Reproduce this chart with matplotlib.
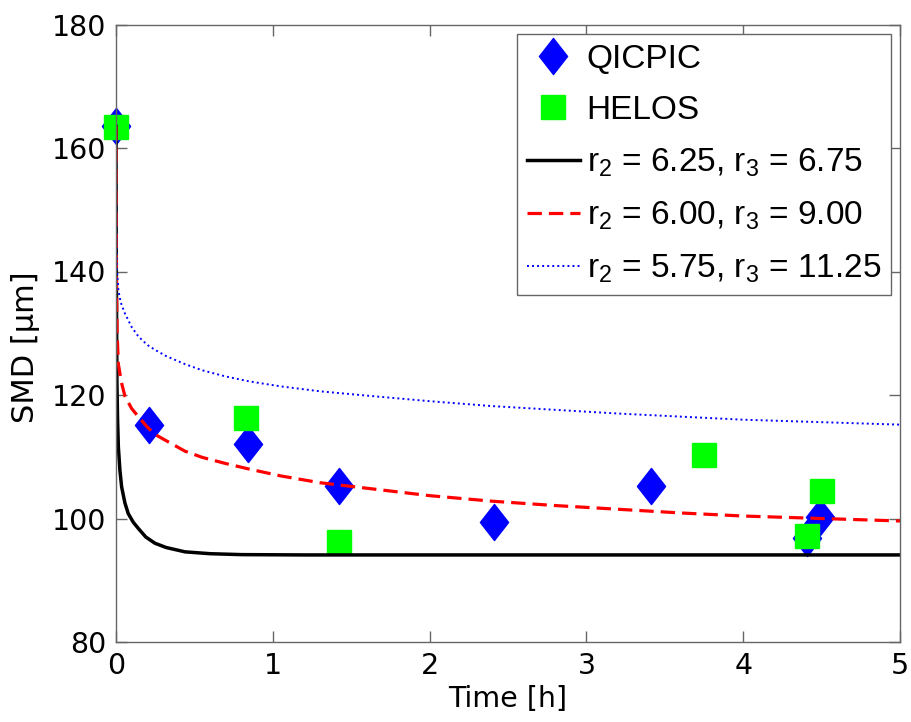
import matplotlib
matplotlib.use("Agg")
import matplotlib.pyplot as plt
import numpy as np
from matplotlib.path import Path

plt.rcParams['font.family'] = ['DejaVu Sans']
plt.rcParams['mathtext.fontset'] = 'custom'
plt.rcParams['mathtext.rm'] = 'Liberation Sans'
plt.rcParams['mathtext.it'] = 'Liberation Sans'

# measured points
qicpic_t = [0.0, 0.21, 0.84, 1.42, 2.41, 3.41, 4.41, 4.49]
qicpic_smd = [163.6, 115.2, 112.0, 105.2, 99.4, 105.2, 96.8, 100.3]
helos_t = [0.0, 0.83, 1.42, 3.75, 4.41, 4.50]
helos_smd = [163.4, 116.3, 96.2, 110.3, 97.2, 104.4]

# model curves
black_t = [0, 0.002, 0.006, 0.01, 0.015, 0.025, 0.036, 0.057, 0.078, 0.11, 0.142,
           0.19, 0.248, 0.32, 0.44, 0.6, 0.8, 1.2, 5.0]
black_smd = [163.5, 140, 122, 116, 111.6, 107.8, 105.1, 102.5, 100.8, 99.4, 98.4,
             97.0, 96.0, 95.3, 94.6, 94.3, 94.15, 94.1, 94.1]
red_t = [0, 0.001, 0.003, 0.007, 0.015, 0.035, 0.057, 0.1, 0.142, 0.2, 0.25, 0.32,
         0.44, 0.55, 0.7, 0.85, 1.05, 1.3, 1.6, 2.0, 2.4, 2.8, 3.2, 3.6, 4.0, 4.5, 5.0]
red_smd = [163.5, 150, 138, 130, 125, 122, 119.8, 117.8, 116.5, 114.8, 113.6, 112.6,
           110.9, 109.9, 108.9, 108.0, 106.9, 105.8, 104.9, 103.7, 102.8, 102.1, 101.5,
           100.9, 100.4, 100.0, 99.6]
blue_t = [0, 0.001, 0.003, 0.007, 0.015, 0.03, 0.057, 0.1, 0.142, 0.2, 0.25, 0.32,
          0.44, 0.55, 0.7, 0.85, 1.05, 1.3, 1.6, 2.0, 2.4, 2.8, 3.2, 3.6, 4.0, 4.5, 5.0]
blue_smd = [163.5, 152, 144, 140, 137, 135, 133.2, 131, 129.5, 128.1, 127.3, 126.3,
            125.0, 124.0, 123.0, 122.2, 121.4, 120.6, 119.9, 119.0, 118.2, 117.6, 117.0,
            116.5, 116.0, 115.6, 115.2]

labels = ['QICPIC', 'HELOS',
          r'r$_2$ = 6.25, r$_3$ = 6.75',
          r'r$_2$ = 6.00, r$_3$ = 9.00',
          r'r$_2$ = 5.75, r$_3$ = 11.25']

diamond = Path([(0, 1), (0.78, 0), (0, -1), (-0.78, 0), (0, 1)],
               [Path.MOVETO, Path.LINETO, Path.LINETO, Path.LINETO, Path.CLOSEPOLY])

fig = plt.figure(figsize=(9.12, 7.22), dpi=100)
ax = fig.add_axes([116 / 912, 80 / 722, 784 / 912, 617.5 / 722])

ax.plot(qicpic_t, qicpic_smd, linestyle='none', marker=diamond, ms=26,
        color=(0, 0, 1), mec=(0, 0, 1), label=labels[0], clip_on=False)
ax.plot(helos_t, helos_smd, linestyle='none', marker='s', ms=17,
        color=(0, 1, 0), mec=(0, 1, 0), label=labels[1], clip_on=False)
ax.plot(black_t, black_smd, color='k', lw=2.5, label=labels[2])
ax.plot(red_t, red_smd, color=(1, 0, 0), lw=2.3, ls=(0, (4.5, 2.2)), label=labels[3])
ax.plot(blue_t, blue_smd, color=(0, 0, 1), lw=1.4, ls=(0, (1, 1.6)), label=labels[4])

ax.set_xlim(0, 5)
ax.set_ylim(80, 180)
ax.set_xticks([0, 1, 2, 3, 4, 5])
ax.set_yticks([80, 100, 120, 140, 160, 180])
ax.tick_params(direction='in', length=8, width=1, color='#666666',
               top=True, right=True, labelsize=20.5, pad=7)
for s in ax.spines.values():
    s.set_color('#666666')
    s.set_linewidth(1)

ax.set_xlabel('Time [h]', fontsize=20.5, labelpad=4)
ax.set_ylabel('SMD [μm]', fontsize=22)
ax.yaxis.set_label_coords(-0.097, 0.478)

leg = ax.legend(loc='upper right', handlelength=1.6, handletextpad=0.2,
                borderaxespad=0.27, labelspacing=0.62, fancybox=False, framealpha=1,
                edgecolor='#666666', borderpad=0.3,
                prop={'family': 'Liberation Sans', 'size': 24})
leg.get_frame().set_linewidth(1)

fig.savefig('out.png', dpi=100)
